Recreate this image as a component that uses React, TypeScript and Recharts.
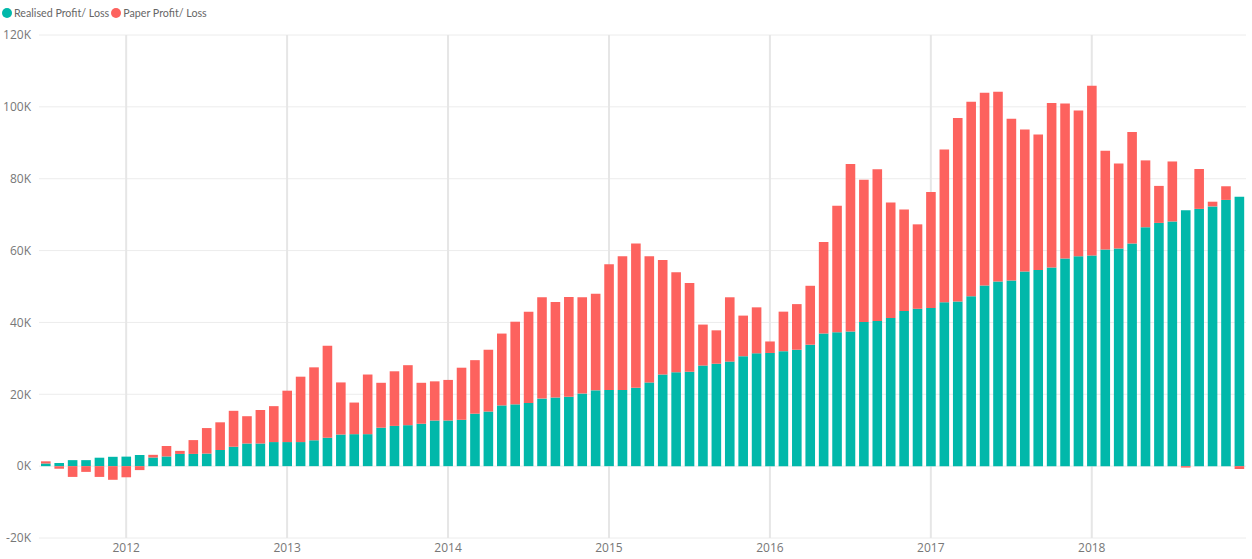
import { BarChart, Bar, XAxis, YAxis, CartesianGrid } from "recharts"

// one category per month, Jul 2011 .. Dec 2018
const months = [
  "2011-07", "2011-08", "2011-09", "2011-10", "2011-11", "2011-12",
  "2012-01", "2012-02", "2012-03", "2012-04", "2012-05", "2012-06", "2012-07", "2012-08", "2012-09", "2012-10", "2012-11", "2012-12",
  "2013-01", "2013-02", "2013-03", "2013-04", "2013-05", "2013-06", "2013-07", "2013-08", "2013-09", "2013-10", "2013-11", "2013-12",
  "2014-01", "2014-02", "2014-03", "2014-04", "2014-05", "2014-06", "2014-07", "2014-08", "2014-09", "2014-10", "2014-11", "2014-12",
  "2015-01", "2015-02", "2015-03", "2015-04", "2015-05", "2015-06", "2015-07", "2015-08", "2015-09", "2015-10", "2015-11", "2015-12",
  "2016-01", "2016-02", "2016-03", "2016-04", "2016-05", "2016-06", "2016-07", "2016-08", "2016-09", "2016-10", "2016-11", "2016-12",
  "2017-01", "2017-02", "2017-03", "2017-04", "2017-05", "2017-06", "2017-07", "2017-08", "2017-09", "2017-10", "2017-11", "2017-12",
  "2018-01", "2018-02", "2018-03", "2018-04", "2018-05", "2018-06", "2018-07", "2018-08", "2018-09", "2018-10", "2018-11", "2018-12",
]

const realised = [
  740, 880, 1670, 1670, 2350, 2600,
  2650, 3100, 2400, 2700, 3400, 3400, 3500, 4500, 5400, 6300, 6300, 6700,
  6700, 6700, 7200, 7900, 8800, 8900, 8900, 10700, 11200, 11400, 11800, 12700,
  12700, 12900, 14600, 15200, 16900, 17200, 17600, 18800, 19100, 19300, 20200, 21100,
  21200, 21200, 21800, 23300, 25500, 26100, 26300, 28000, 28500, 29100, 30600, 31400,
  31500, 32000, 32400, 33800, 36900, 37300, 37500, 40100, 40400, 41200, 43200, 43800,
  44000, 45600, 45800, 47300, 50300, 51400, 51700, 54200, 54600, 55300, 57800, 58400,
  58600, 60300, 60600, 62000, 66500, 67700, 68100, 71200, 71600, 72300, 74100, 75000,
]

const paper = [
  600, -750, -3000, -1600, -3000, -3800,
  -3100, -1100, 750, 2900, 850, 3850, 7100, 7700, 10000, 7600, 9300, 10000,
  14300, 18200, 20300, 25600, 14500, 8800, 16600, 12500, 15200, 16700, 11400, 10900,
  11300, 14500, 14900, 17200, 20000, 23000, 25400, 28200, 26600, 27800, 26800, 26900,
  35000, 37200, 40200, 35100, 31900, 27900, 24700, 11400, 9300, 17900, 11300, 12800,
  3200, 11000, 12700, 16400, 25500, 35200, 46600, 39600, 42200, 32200, 28200, 23500,
  32300, 42500, 51100, 54100, 53600, 52800, 45000, 39500, 37700, 45800, 43100, 40600,
  47300, 27500, 23600, 31000, 18600, 10300, 16700, -400, 11100, 1300, 3800, -800,
]

const yearTicks = ["2012-01", "2013-01", "2014-01", "2015-01", "2016-01", "2017-01", "2018-01"]
const valueTicks = [-20000, 0, 20000, 40000, 60000, 80000, 100000, 120000]

const seriesNames = ["Realised Profit/ Loss", "Paper Profit/ Loss"]
const seriesColors = ["#01B8AA", "#FD625E"]

const data = months.map((m, i) => ({ month: m, realised: realised[i], paper: paper[i] }))

const FONT = "'Segoe UI', 'Open Sans', 'DejaVu Sans', sans-serif"
const LEGEND_FONT = "'Segoe UI', Lato, 'Open Sans', sans-serif"

export default function App() {
  return (
    <div style={{ position: "absolute", left: 0, top: 0, width: 1252, height: 559, background: "#fff", fontFamily: FONT }}>
      {/* Legend */}
      <div style={{ position: "absolute", left: 2, top: 6, display: "flex", alignItems: "center", fontSize: 10.7, color: "#666", whiteSpace: "nowrap", fontFamily: LEGEND_FONT }}>
        {seriesNames.map((name, i) => (
          <div key={name} style={{ display: "flex", alignItems: "center", marginRight: 2 }}>
            <span style={{ width: 10, height: 10, borderRadius: 5, background: seriesColors[i], marginRight: 2, display: "inline-block" }} />
            <span>{name}</span>
          </div>
        ))}
      </div>

      <BarChart
        width={1252}
        height={559}
        data={data}
        stackOffset="sign"
        margin={{ top: 35, right: 6, left: 0, bottom: 0 }}
      >
        <CartesianGrid vertical={false} stroke="#ececec" />
        <CartesianGrid horizontal={false} syncWithTicks stroke="#e6e6e6" strokeWidth={2} />
        <XAxis
          dataKey="month"
          ticks={yearTicks}
          interval={0}
          axisLine={false}
          tickLine={false}
          tickSize={5}
          tickMargin={0}
          height={21}
          tick={{ fill: "#777", fontSize: 12, fontFamily: FONT }}
          tickFormatter={(v: string) => v.slice(0, 4)}
        />
        <YAxis
          width={39}
          domain={[-20000, 120000]}
          ticks={valueTicks}
          axisLine={false}
          tickLine={false}
          tick={{ fill: "#777", fontSize: 12, fontFamily: FONT }}
          tickFormatter={(v: number) => `${v / 1000}K`}
        />
        <Bar dataKey="realised" name={seriesNames[0]} stackId="s" fill={seriesColors[0]} barSize={9.6} isAnimationActive={false} />
        <Bar dataKey="paper" name={seriesNames[1]} stackId="s" fill={seriesColors[1]} barSize={9.6} isAnimationActive={false} />
      </BarChart>
    </div>
  )
}
